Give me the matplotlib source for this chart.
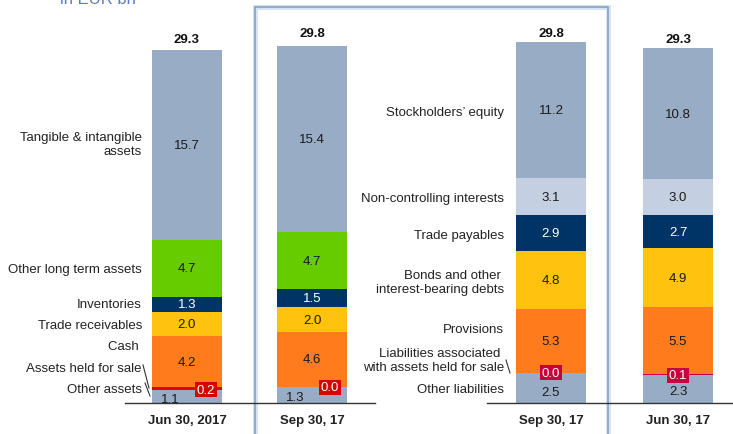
import numpy as np
import matplotlib
matplotlib.use('Agg')
import matplotlib.pyplot as plt
from matplotlib.patches import Rectangle
from matplotlib.transforms import Bbox, TransformedBbox

plt.rcParams['font.family'] = ['Liberation Sans', 'DejaVu Sans']

# data (EUR bn), stacked bottom -> top
dates = ['Jun 30, 2017', 'Sep 30, 17', 'Sep 30, 17', 'Jun 30, 17']
totals = [29.3, 29.8, 29.8, 29.3]

asset_items = ['Other assets', 'Assets held for sale', 'Cash ', 'Trade receivables',
               'Inventories', 'Other long term assets', 'Tangible & intangible\nassets']
assets_jun17 = [1.1, 0.2, 4.2, 2.0, 1.3, 4.7, 15.7]
assets_sep17 = [1.3, 0.0, 4.6, 2.0, 1.5, 4.7, 15.4]

liab_items = ['Other liabilities', 'Liabilities associated \nwith assets held for sale',
              'Provisions', 'Bonds and other \ninterest-bearing debts', 'Trade payables',
              'Non-controlling interests', 'Stockholders\u2019 equity']
liab_sep17 = [2.5, 0.0, 5.3, 4.8, 2.9, 3.1, 11.2]
liab_jun17 = [2.3, 0.1, 5.5, 4.9, 2.7, 3.0, 10.8]

gray = '#98ADC5'
asset_colors = [gray, '#E60000', '#FF7B1C', '#FFC20E', '#003366', '#66CC00', gray]
liab_colors = [gray, '#C8003C', '#FF7B1C', '#FFC20E', '#003366', '#C5CFE2', gray]
box_colors = ['#D80000', '#D80000', '#C8003C', '#C8003C']

# layout: pixel based axes
PX = 12.1          # pixels per EUR bn
BASE = 404         # pixel row of the zero line
def py(p):
    return (BASE - p) / PX

fig = plt.figure(figsize=(7.33, 4.35), dpi=100)
ax = fig.add_axes([0, 0, 1, 1])
ax.set_xlim(0, 733)
ax.set_ylim(py(435), py(0))
ax.axis('off')

# highlight frame around the Sep 30 columns
ax.add_patch(Rectangle((255, py(445)), 353, py(8) - py(445), fill=False,
                       ec='#D6E3F3', lw=3.5, zorder=0))
ax.add_patch(Rectangle((255, py(445)), 353, py(8) - py(445), fill=False,
                       ec='#7F9DC8', lw=1.1, zorder=0.5))

xs = [187, 312, 551, 678]
bars = [assets_jun17, assets_sep17, liab_sep17, liab_jun17]
colors = [asset_colors, asset_colors, liab_colors, liab_colors]
low_px = [400, 398, 393, 392]
low_dx = [-17, -17, 0, 0]
box_dx = [19, 18, 0, 0]

for i, vals in enumerate(bars):
    vals = np.array(vals)
    bottoms = np.concatenate([[0], np.cumsum(vals)[:-1]])
    ax.bar(xs[i], vals, bottom=bottoms, width=70, color=colors[i], zorder=2)
    for j in range(2, len(vals)):
        c = 'white' if colors[i][j] == '#003366' else '#1a1a1a'
        ax.text(xs[i], bottoms[j] + vals[j] / 2, f'{vals[j]:.1f}', ha='center',
                va='center', fontsize=9.5, color=c, zorder=3)
    t = ax.text(xs[i] + low_dx[i], py(low_px[i]), f'{vals[0]:.1f}', ha='center',
                va='center', fontsize=9.5, color='#1a1a1a', zorder=3, clip_on=True)
    t.set_clip_box(TransformedBbox(Bbox([[0, 0], [733, 40]]), ax.transData))
    ax.text(xs[i] + box_dx[i], vals[0], f'{vals[1]:.1f}', ha='center', va='center',
            fontsize=9.5, color='white', zorder=4,
            bbox=dict(boxstyle='square,pad=0.12', fc=box_colors[i], ec='none'))
    ax.text(xs[i], totals[i] + 0.8, f'{totals[i]:.1f}', ha='center', va='center',
            fontsize=9.5, fontweight='bold', color='#111111', zorder=3)
    ax.text(xs[i], py(421), dates[i], ha='center', va='center', fontsize=9.5,
            fontweight='bold', color='#222222')

# category labels
asset_label_px = [390, 369, 347, 326, 305, 270, 145]
for name, p in zip(asset_items, asset_label_px):
    ax.text(142, py(p), name, ha='right', va='center', fontsize=9.5,
            color='#222222', multialignment='right', linespacing=1.25)

liab_label_px = [390, 361, 330, 283, 236, 199, 113]
for name, p in zip(liab_items, liab_label_px):
    ax.text(504, py(p), name, ha='right', va='center', fontsize=9.5,
            color='#222222', multialignment='right', linespacing=1.25)

# leader strokes
ax.plot([143, 149], [py(366), py(389)], color='#333333', lw=0.8)
ax.plot([145, 150], [py(384), py(397)], color='#333333', lw=0.8)
ax.plot([506, 510], [py(361), py(374)], color='#333333', lw=0.8)

# base lines
ax.plot([125, 375], [0, 0], color='#333333', lw=1, zorder=5)
ax.plot([487, 733], [0, 0], color='#333333', lw=1, zorder=5)

ax.text(60, py(4), 'in EUR bn', ha='left', va='baseline', fontsize=12,
        color='#5B7FBF')

fig.savefig('out.png', dpi=100)
